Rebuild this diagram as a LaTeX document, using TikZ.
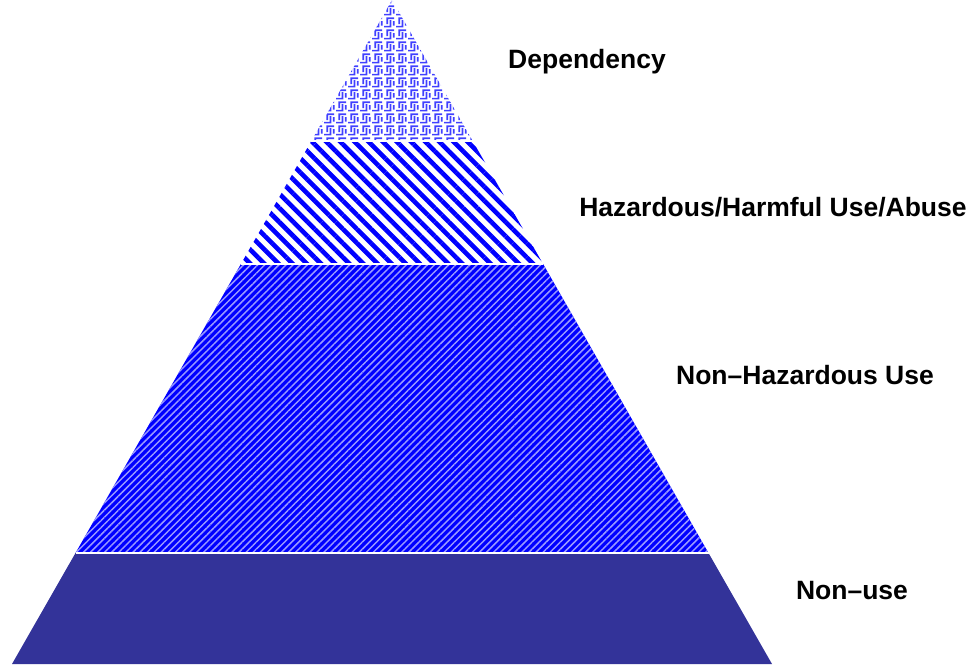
\documentclass[tikz,border=0pt]{standalone}
\usepackage{fontspec}
\setmainfont{Liberation Sans}
\usetikzlibrary{patterns.meta}
\definecolor{nonuse}{RGB}{51,51,153}
\definecolor{pblue}{RGB}{0,0,255}
\tikzdeclarepattern{
  name=weavepat,
  type=uncolored,
  bottom left={(0pt,0pt)},
  top right={(12pt,12pt)},
  tile size={(12pt,12pt)},
  code={
    \draw[line width=1.8pt,line cap=rect]
      (1pt,1.5pt) -- (7pt,1.5pt) -- (7pt,7.5pt)
      (3.5pt,5pt) -- (3.5pt,10.5pt) -- (10pt,10.5pt)
      (10.5pt,3.5pt) -- (10.5pt,6.5pt);
  }
}
\tikzset{
  band/.style={draw=none},
  lbl/.style={font=\fontsize{26.5}{31}\selectfont\bfseries, anchor=center, inner sep=0pt},
  gapline/.style={draw=white, line width=2.2pt}
}
\begin{document}
\begin{tikzpicture}[x=1pt,y=-1pt]
\useasboundingbox (0,0) rectangle (973,664);
% coordinates
\coordinate (apex) at (392,0);
\coordinate (l1) at (311.3,141); \coordinate (r1) at (472.7,141);
\coordinate (l2) at (240.9,264); \coordinate (r2) at (543.1,264);
\coordinate (l3) at (75.5,553);  \coordinate (r3) at (708.5,553);
\coordinate (l4) at (12,664);    \coordinate (r4) at (772,664);
% bands
\path[band, pattern={weavepat}, pattern color=pblue!75] (apex) -- (r1) -- (l1) -- cycle;
\path[band, pattern={Lines[angle=-45, distance=10pt, line width=4.6pt]}, pattern color=pblue] (l1) -- (r1) -- (r2) -- (l2) -- cycle;
\path[band, fill=pblue] (l2) -- (r2) -- (r3) -- (l3) -- cycle;
\path[band, pattern={Lines[angle=45, distance=5pt, line width=1.5pt]}, pattern color=pblue!40!white] (l2) -- (r2) -- (r3) -- (l3) -- cycle;
\path[band, fill=nonuse] (l3) -- (r3) -- (r4) -- (l4) -- cycle;
% white separators
\draw[gapline] (l1) -- (r1);
\draw[gapline] (l2) -- (r2);
\draw[gapline] (l3) -- (r3);
% labels
\node[lbl] (dep) at (587,62) {Dependency};
\node[lbl] (haz) at (773,207) {Hazardous/Harmful Use/Abuse};
\node[lbl] (nonhaz) at (805,375) {Non--Hazardous Use};
\node[lbl] (non) at (852,591) {Non--use};
\end{tikzpicture}
\end{document}
